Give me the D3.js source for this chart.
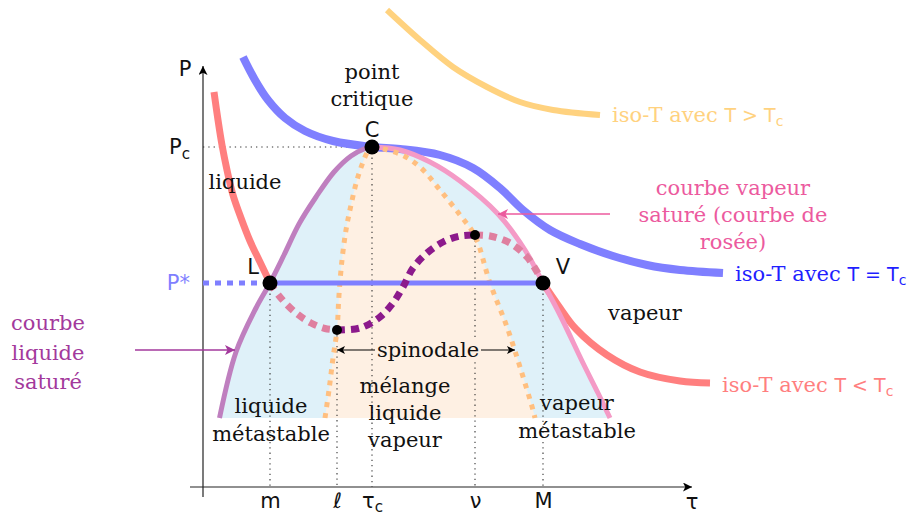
<!DOCTYPE html>
<html><head><meta charset="utf-8">
<script src="https://cdn.jsdelivr.net/npm/d3@7"></script>
<style>body{margin:0;background:#fff}svg{display:block}</style>
</head><body>
<svg id="c" width="922" height="515"></svg>
<script>
// ---------- data (τ, P in arbitrary units) ----------
const tauTicks = [13.4, 26.8, 33.8, 54.4, 68];
const tauTickLabels = ["m", "ℓ", "τ_c", "ν", "M"];
const pTicks = [40.8, 68];
const pTickLabels = ["P*", "P_c"];
const criticalPoint = [33.8, 68];
const pointL = [13.4, 40.8];
const pointV = [68, 40.8];
const spinodalPoints = [[26.8, 31.4], [54.4, 50.4]];
const shadeBottom = 13.8;

const liquidSat = [[3.3,13.8],[6.6,27],[10.6,35.8],[13.4,40.8],[16.2,46.4],[19.2,52.6],[22.6,58],[26.2,63],[29.6,66.2],[32.2,67.6],[33.8,68]];
const vaporSat = [[33.8,68],[39.4,67.4],[45.4,65],[51.4,61.2],[59,54.6],[64.4,47.4],[68,40.8],[71.4,34.4],[76,24.8],[79,18.8],[81.4,13.8]];
const spinodalLeft = [[24.4,13.8],[25.2,19.4],[26,25.8],[26.8,31.4],[27.2,38.4],[27.8,45.4],[28.6,51.4],[29.6,56.4],[30.8,61.4],[32,65],[33,67.2],[33.8,68]];
const spinodalRight = [[33.8,68],[36.2,67.6],[39.8,66.4],[43.4,64],[47.4,59.4],[51.4,54.4],[54.4,50.2],[57.4,40.8],[60.8,32],[63.4,24],[66,15.4],[66.4,13.8]];
const isoBelowLeft = [[2.2,79],[3,73.4],[3.8,68.4],[4.8,63.4],[6,58.4],[7.6,53.8],[9.4,49.2],[11.4,45],[13.4,40.8]];
const isoBelowRight = [[68,40.8],[71,36.4],[74.6,31.6],[80.8,26.4],[87.4,23],[95.4,21.2],[101.4,20.8]];
const isoCritical = [[8,86],[10.4,81.4],[13,77.4],[16.4,73.8],[20.4,71.2],[26,69.2],[33.8,68],[39.4,67.6],[47.4,66.4],[54,63.8],[59.4,59.8],[64,55.4],[69.4,51.4],[75.4,48.6],[82,46.2],[88.8,44.4],[95.4,43.4],[104,42.8]];
const isoAbove = [[36.8,95.4],[43.4,89.4],[50,84],[56.8,80],[63.4,77],[70,75.4],[79.4,74.4]];
const metaLiquid = [[13.4,40.8],[15.4,38],[18.6,34.8],[21.6,32.8],[24.4,31.7],[26.8,31.4]];
const unstable = [[26.8,31.4],[31.4,31.8],[35.4,34],[38,36.8],[40,40],[42,43.8],[44.8,46.8],[48,49],[51.4,50.2],[54.4,50.4]];
const metaVapor = [[54.4,50.4],[57.4,50.2],[61.4,48.8],[64.8,46],[67.4,42],[68,40.8]];

// ---------- drawing ----------
const svg = d3.select("#c");
const x = d3.scaleLinear().domain([0, 100]).range([203, 703]);
const y = d3.scaleLinear().domain([0, 100]).range([487, -13]);
const line = d3.line().x(d => x(d[0])).y(d => y(d[1])).curve(d3.curveCatmullRom.alpha(0.5));

const SERIF = "DejaVu Serif";
const SANS = "DejaVu Sans";
const FS = 21;

const C = {
  red: "#ff7f7f", blue: "#7f7fff", yellow: "#ffd27f", purple: "#bf7fbf", pink: "#f49ac6",
  orange: "#ffbf7f", fillBlue: "#dff1f9", fillOrange: "#fef0e3", meta: "#df7f9f", unst: "#8c1a8c",
  pinkLabel: "#ec5a9e", purpleLabel: "#a3399c", blueLabel: "#1f1fff"
};

const defs = svg.append("defs");
function marker(id, color, w, h) {
  defs.append("marker").attr("id", id).attr("viewBox", "0 0 10 10").attr("refX", 10).attr("refY", 5)
    .attr("markerWidth", w).attr("markerHeight", h).attr("markerUnits", "userSpaceOnUse").attr("orient", "auto-start-reverse")
    .append("path").attr("d", "M0,0 L10,5 L0,10 L2.5,5 Z").attr("fill", color);
}
marker("ak", "#000", 11, 9);
marker("ap", C.pinkLabel, 13, 10);
marker("au", C.purpleLabel, 13, 10);
marker("as", "#000", 11, 8);

// fills
svg.append("path").attr("d", line(liquidSat.concat(vaporSat.slice(1))) + "Z").attr("fill", C.fillBlue);
svg.append("path").attr("d", line(spinodalLeft.concat(spinodalRight.slice(1))) + "Z").attr("fill", C.fillOrange);

// axes
const g = svg.append("g");
g.append("line").attr("x1", x(-2.6)).attr("x2", x(97.8)).attr("y1", y(0)).attr("y2", y(0))
  .attr("stroke", "#222").attr("stroke-width", 1.2).attr("marker-end", "url(#ak)");
g.append("line").attr("x1", x(0)).attr("x2", x(0)).attr("y1", y(-2)).attr("y2", y(84.2))
  .attr("stroke", "#222").attr("stroke-width", 1.2).attr("marker-end", "url(#ak)");

// dotted guides
const dot = { stroke: "#333", "stroke-width": 1.1, "stroke-dasharray": "1.3,4" };
function guide(x1, y1, x2, y2) {
  const l = svg.append("line").attr("x1", x(x1)).attr("y1", y(y1)).attr("x2", x(x2)).attr("y2", y(y2));
  Object.entries(dot).forEach(([k, v]) => l.attr(k, v));
}
[pointL, spinodalPoints[0], criticalPoint, spinodalPoints[1], pointV].forEach(p => guide(p[0], p[1], p[0], 0));
guide(0, criticalPoint[1], criticalPoint[0], criticalPoint[1]);

// isotherms
function stroke(data, color, w, dash) {
  const p = svg.append("path").attr("d", line(data)).attr("fill", "none").attr("stroke", color)
    .attr("stroke-width", w).attr("stroke-linecap", "butt");
  if (dash) p.attr("stroke-dasharray", dash);
  return p;
}
stroke(isoAbove, C.yellow, 6);
stroke(isoCritical, C.blue, 8);
stroke(isoBelowLeft, C.red, 7);
stroke(isoBelowRight, C.red, 7);
// saturation curves
stroke(liquidSat, C.purple, 5);
stroke(vaporSat, C.pink, 5);
// spinodal
stroke(spinodalLeft, C.orange, 5, "5,6");
stroke(spinodalRight, C.orange, 5, "5,6");
// plateau
svg.append("line").attr("x1", x(pointL[0])).attr("x2", x(pointV[0])).attr("y1", y(pointL[1])).attr("y2", y(pointV[1]))
  .attr("stroke", C.blue).attr("stroke-width", 5);
svg.append("line").attr("x1", x(0)).attr("x2", x(pointL[0])).attr("y1", y(pointL[1])).attr("y2", y(pointL[1]))
  .attr("stroke", C.blue).attr("stroke-width", 5).attr("stroke-dasharray", "6,6");
// van der Waals loop
stroke(metaLiquid, C.meta, 7, "8,6");
stroke(unstable, C.unst, 7, "8,6");
stroke(metaVapor, C.meta, 7, "8,6");

// points
[pointL, pointV, criticalPoint].forEach(p => svg.append("circle").attr("cx", x(p[0])).attr("cy", y(p[1])).attr("r", 7.5).attr("fill", "#000"));
spinodalPoints.forEach(p => svg.append("circle").attr("cx", x(p[0])).attr("cy", y(p[1])).attr("r", 5).attr("fill", "#000"));

// axis tick labels
function writeMath(textSel, s) {
  const [base, sub] = s.split("_");
  textSel.text(null);
  textSel.append("tspan").text(base);
  if (sub) textSel.append("tspan").attr("font-size", "0.72em").attr("dy", "0.3em").text(sub);
}
const xAxis = svg.append("g").attr("transform", `translate(0,${y(0)})`)
  .call(d3.axisBottom(x).tickValues(tauTicks).tickSize(0).tickPadding(6).tickFormat((d, i) => tauTickLabels[i]));
xAxis.select(".domain").remove();
xAxis.selectAll("text").attr("font-family", SANS).attr("font-size", 21).attr("fill", "#111")
  .each(function (d, i) { writeMath(d3.select(this), tauTickLabels[i]); });
const yAxis = svg.append("g").attr("transform", `translate(${x(0)},0)`)
  .call(d3.axisLeft(y).tickValues(pTicks).tickSize(0).tickPadding(13).tickFormat((d, i) => pTickLabels[i]));
yAxis.select(".domain").remove();
yAxis.selectAll("text").attr("font-family", SANS).attr("font-size", 21)
  .attr("fill", (d, i) => i === 0 ? C.blue : "#111")
  .each(function (d, i) { writeMath(d3.select(this), pTickLabels[i]); });

// text helpers
function label(lines, cx, by, color, anchor, lh, fam) {
  lines.forEach((t, i) => {
    svg.append("text").attr("x", x(cx)).attr("y", y(by) + i * (lh || 27)).attr("text-anchor", anchor || "middle")
      .attr("font-family", fam || SERIF).attr("font-size", FS).attr("fill", color || "#111").text(t);
  });
}
label(["P"], -3.6, 82.2, "#111", "middle", 0, SANS);
label(["τ"], 97.8, -4.4, "#111", "middle", 0, SANS);
label(["point", "critique"], 33.8, 81.6);
label(["C"], 33.8, 70, "#111", "middle", 0, SANS);
label(["liquide"], 8.4, 59.6);
label(["L"], 10, 42.6, "#111", "middle", 0, SANS);
label(["V"], 72, 42.6, "#111", "middle", 0, SANS);
label(["vapeur"], 88.4, 33.4);
label(["mélange", "liquide", "vapeur"], 40.4, 18.8);
label(["liquide", "métastable"], 13.6, 14.8, "#111", "middle", 28);
label(["vapeur", "métastable"], 74.8, 15.4, "#111", "middle", 28);
label(["courbe", "liquide", "saturé"], -31, 31.4, C.purpleLabel, "middle", 29.5);
label(["courbe vapeur", "saturé (courbe de", "rosée)"], 106, 58.4, C.pinkLabel, "middle", 27);

// spinodal arrow + label
svg.append("line").attr("x1", x(spinodalPoints[0][0])).attr("x2", x(62.4)).attr("y1", y(27.4)).attr("y2", y(27.4))
  .attr("stroke", "#000").attr("stroke-width", 1.2).attr("marker-start", "url(#as)").attr("marker-end", "url(#as)");
svg.append("rect").attr("x", x(34.4)).attr("y", y(27.4) - 12).attr("width", x(55.6) - x(34.4)).attr("height", 24).attr("fill", C.fillOrange);
label(["spinodale"], 45, 26);

// pointer arrows
svg.append("line").attr("x1", x(81.4)).attr("x2", x(59)).attr("y1", y(54.6)).attr("y2", y(54.6))
  .attr("stroke", C.pinkLabel).attr("stroke-width", 1.3).attr("marker-end", "url(#ap)");
svg.append("line").attr("x1", x(-13.6)).attr("x2", x(6.4)).attr("y1", y(27.4)).attr("y2", y(27.4))
  .attr("stroke", C.purpleLabel).attr("stroke-width", 1.3).attr("marker-end", "url(#au)");

// isotherm labels
function isoLabel(cx, by, rel, color) {
  const t = svg.append("text").attr("x", x(cx)).attr("y", y(by)).attr("font-size", FS).attr("fill", color);
  t.append("tspan").attr("font-family", SERIF).text("iso-T avec ");
  t.append("tspan").attr("font-family", SANS).attr("font-size", 19).text("T " + rel + " T");
  t.append("tspan").attr("font-family", SANS).attr("font-size", 14).attr("dy", "0.3em").text("c");
}
isoLabel(81.8, 73, ">", C.yellow);
isoLabel(106.4, 41.2, "=", C.blueLabel);
isoLabel(103.8, 19, "<", C.red);
</script>
</body></html>
